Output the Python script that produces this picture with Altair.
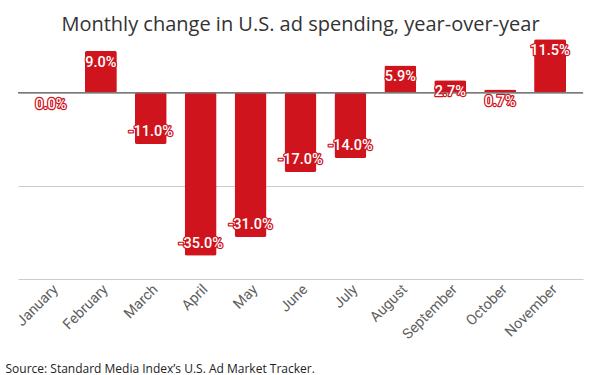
import altair as alt
import pandas as pd

months = ["January", "February", "March", "April", "May", "June", "July",
          "August", "September", "October", "November"]
values = [0.0, 9.0, -11.0, -35.0, -31.0, -17.0, -14.0, 5.9, 2.7, 0.7, 11.5]
y_ticks = [-40, -20, 0]
title_text = "Monthly change in U.S. ad spending, year-over-year"
source_text = "Source: Standard Media Index\u2019s U.S. Ad Market Tracker."

df = pd.DataFrame({"month": months, "value": values})
RED = "#d0141d"

y_axis = alt.Axis(title=None, values=y_ticks, labels=False, ticks=False,
                  domain=False, grid=True, gridColor="#cccccc", gridWidth=1)
y_scale = alt.Scale(domain=[-40, 12], nice=False, zero=True)

base = alt.Chart(df).encode(
    x=alt.X("month:N", sort=months,
            scale=alt.Scale(paddingInner=0.36, paddingOuter=0.34),
            axis=alt.Axis(title=source_text, labelAngle=-45, labelAlign="right",
                          labelBaseline="middle", labelPadding=8, labelOffset=5,
                          labelFont="Roboto", labelFontSize=14.5, labelColor="#5f5f5f",
                          ticks=False, domain=False,
                          titleFont="Open Sans", titleFontSize=12, titleFontWeight="normal",
                          titleColor="#222222", titleAnchor="start", titleAlign="left",
                          titleBaseline="alphabetic", titleX=-13, titleY=93)),
    y=alt.Y("value:Q", scale=y_scale, axis=y_axis),
)

bars = base.mark_bar(color=RED, cornerRadius=2)

zero = alt.Chart(pd.DataFrame({"value": [0]})).mark_rule(
    color="#7a7a7a", strokeWidth=1.5).encode(
    y=alt.Y("value:Q", scale=y_scale, axis=y_axis))

lab = base.transform_calculate(
    label="(datum.value < 0 ? '-' : '') + format(abs(datum.value), '.1f') + '%'")
pos = lab.transform_filter("datum.value >= 0")
neg = lab.transform_filter("datum.value < 0")

def text_layers(src, dy):
    common = dict(font="Roboto", fontSize=14.5, fontWeight=500, baseline="middle",
                  align="center", dy=dy)
    halo = src.mark_text(fill=RED, stroke=RED, strokeWidth=2.5, strokeJoin="round",
                         **common).encode(text="label:N")
    front = src.mark_text(fill="white", **common).encode(text="label:N")
    return halo + front

chart = alt.layer(
    bars, zero, text_layers(pos, 12), text_layers(neg, -12)
).properties(
    width=565, height=242,
    background="white",
    title=alt.TitleParams(title_text, font="Open Sans", fontSize=20, fontWeight="normal",
                          color="#333333", anchor="middle", baseline="alphabetic",
                          offset=9, dy=23),
    autosize=alt.AutoSizeParams(type="none"),
    padding={"left": 18, "top": 37, "right": 17, "bottom": 96},
).configure_view(strokeWidth=0)

chart.save("out.html", embed_options={"renderer": "svg", "actions": False})
